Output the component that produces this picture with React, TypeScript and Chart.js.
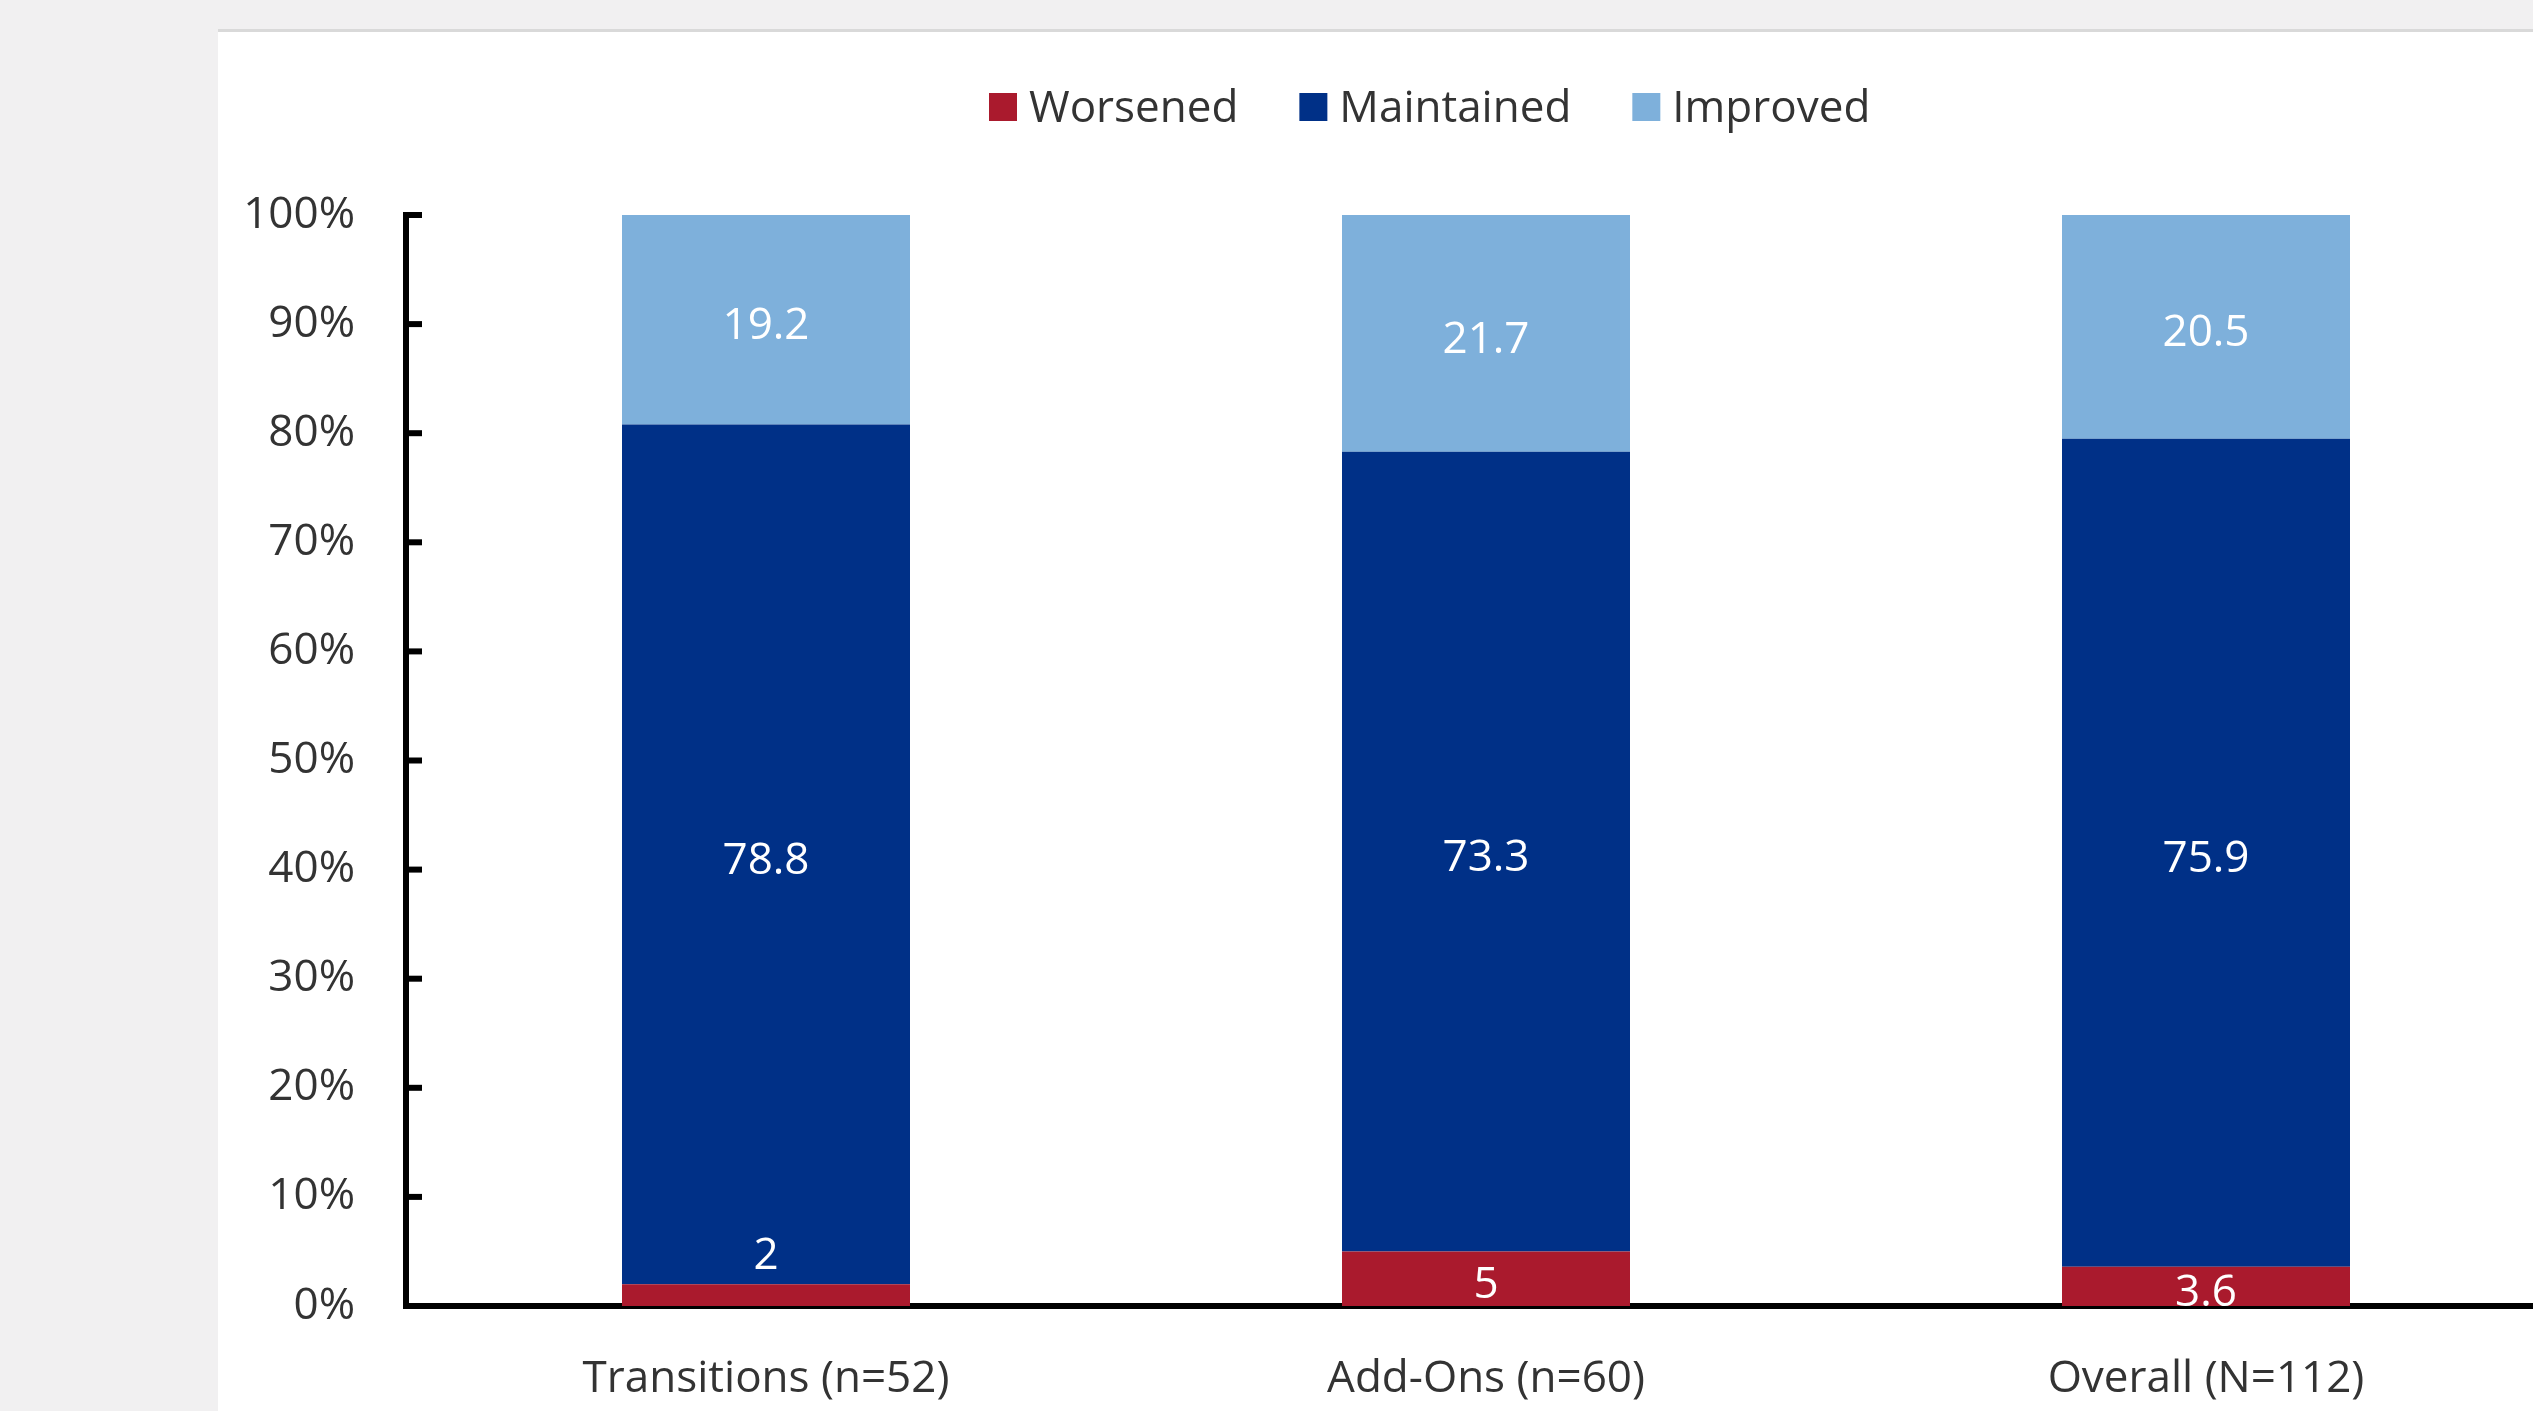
import React, { useEffect, useRef } from "react";
import { Chart, registerables } from "chart.js";

Chart.register(...registerables);

// Outcome shares (%) per cohort
const categories = ["Transitions (n=52)", "Add-Ons (n=60)", "Overall (N=112)"];
const seriesNames = ["Worsened", "Maintained", "Improved"];
const worsened = [2, 5, 3.6];
const maintained = [78.8, 73.3, 75.9];
const improved = [19.2, 21.7, 20.5];
const seriesColors = ["#AA1A2D", "#003087", "#7EB0DB"];

const yMin = 0;
const yMax = 100;
const yStep = 10;

const FONT = "'Open Sans', 'DejaVu Sans', sans-serif";
const FONT_SIZE = 44;
const TEXT_COLOR = "#333333";

const CANVAS_W = 2566;
const CANVAS_H = 1411;

// Centred white value labels; very thin segments get their label lifted above the segment.
const valueLabels = {
  id: "valueLabels",
  afterDatasetsDraw(chart: any) {
    const ctx = chart.ctx;
    ctx.save();
    ctx.font = `${FONT_SIZE}px ${FONT}`;
    ctx.fillStyle = "#ffffff";
    ctx.textAlign = "center";
    ctx.textBaseline = "alphabetic";
    chart.data.datasets.forEach((ds: any, di: number) => {
      const meta = chart.getDatasetMeta(di);
      meta.data.forEach((bar: any, i: number) => {
        const { x, y, base } = bar.getProps(["x", "y", "base"], true);
        const h = base - y;
        const cy = h < 34 ? y - 31 : (y + base) / 2 + 4;
        ctx.fillText(String(ds.data[i]), x, cy + 15.5);
      });
    });
    ctx.restore();
  },
};

// Short tick marks pointing into the plot from the value axis, plus the legend row.
const axisAndLegend = {
  id: "axisAndLegend",
  afterDraw(chart: any) {
    const ctx = chart.ctx;
    const ys = chart.scales.y;
    ctx.save();
    ctx.strokeStyle = "#000000";
    ctx.lineWidth = 6;
    ys.ticks.forEach((_t: any, i: number) => {
      const py = ys.getPixelForTick(i);
      ctx.beginPath();
      ctx.moveTo(ys.right, py);
      ctx.lineTo(ys.right + 16, py);
      ctx.stroke();
    });

    ctx.font = `${FONT_SIZE}px ${FONT}`;
    ctx.textAlign = "left";
    ctx.textBaseline = "alphabetic";
    let lx = 989;
    const boxTop = 93;
    const box = 28;
    chart.data.datasets.forEach((ds: any) => {
      ctx.fillStyle = ds.backgroundColor;
      ctx.fillRect(lx, boxTop, box, box);
      ctx.fillStyle = TEXT_COLOR;
      const tx = lx + box + 12;
      ctx.fillText(ds.label, tx, 122);
      lx = tx + ctx.measureText(ds.label).width + 61;
    });
    ctx.restore();
  },
};

export default function App() {
  const canvasRef = useRef<HTMLCanvasElement | null>(null);

  useEffect(() => {
    let chart: Chart | null = null;
    let cancelled = false;

    const build = () => {
      if (cancelled || !canvasRef.current) return;
      const seriesValues = [worsened, maintained, improved];
      chart = new Chart(canvasRef.current, {
        type: "bar",
        data: {
          labels: categories,
          datasets: seriesNames.map((name, i) => ({
            label: name,
            data: seriesValues[i],
            backgroundColor: seriesColors[i],
            borderWidth: 0,
            categoryPercentage: 0.4,
            barPercentage: 1,
          })),
        },
        options: {
          responsive: false,
          animation: false,
          devicePixelRatio: 1,
          layout: { padding: { top: 215, left: 0, right: 0, bottom: 0 } },
          plugins: {
            legend: { display: false },
            title: { display: false },
            tooltip: { enabled: false },
          },
          scales: {
            x: {
              stacked: true,
              grid: { display: false, drawTicks: false },
              border: { display: true, color: "#000000", width: 6 },
              ticks: {
                color: TEXT_COLOR,
                font: { family: FONT, size: FONT_SIZE },
                padding: 47,
                maxRotation: 0,
                autoSkip: false,
              },
              afterFit(scale: any) {
                scale.height = 105;
              },
            },
            y: {
              stacked: true,
              min: yMin,
              max: yMax,
              grid: { display: false, drawTicks: false },
              border: { display: true, color: "#000000", width: 6 },
              ticks: {
                stepSize: yStep,
                color: TEXT_COLOR,
                font: { family: FONT, size: FONT_SIZE },
                padding: 51,
                callback: (v: any) => `${v}%`,
              },
              afterFit(scale: any) {
                scale.width = 406;
              },
            },
          },
        },
        plugins: [valueLabels, axisAndLegend],
      });
    };

    const fonts = (document as any).fonts;
    if (fonts && fonts.load) {
      fonts.load(`${FONT_SIZE}px 'Open Sans'`).then(build, build);
    } else {
      build();
    }

    return () => {
      cancelled = true;
      if (chart) chart.destroy();
    };
  }, []);

  return (
    <div
      style={{
        position: "fixed",
        left: 0,
        top: 0,
        width: "100vw",
        height: "100vh",
        overflow: "hidden",
        background: "#F1F0F1",
      }}
    >
      <div
        style={{
          position: "absolute",
          left: 218,
          top: 29,
          right: 0,
          bottom: 0,
          background: "#ffffff",
          borderTop: "3px solid #D9D9D9",
        }}
      />
      <canvas
        ref={canvasRef}
        width={CANVAS_W}
        height={CANVAS_H}
        style={{
          position: "absolute",
          left: 0,
          top: 0,
          width: CANVAS_W,
          height: CANVAS_H,
        }}
      />
    </div>
  );
}
